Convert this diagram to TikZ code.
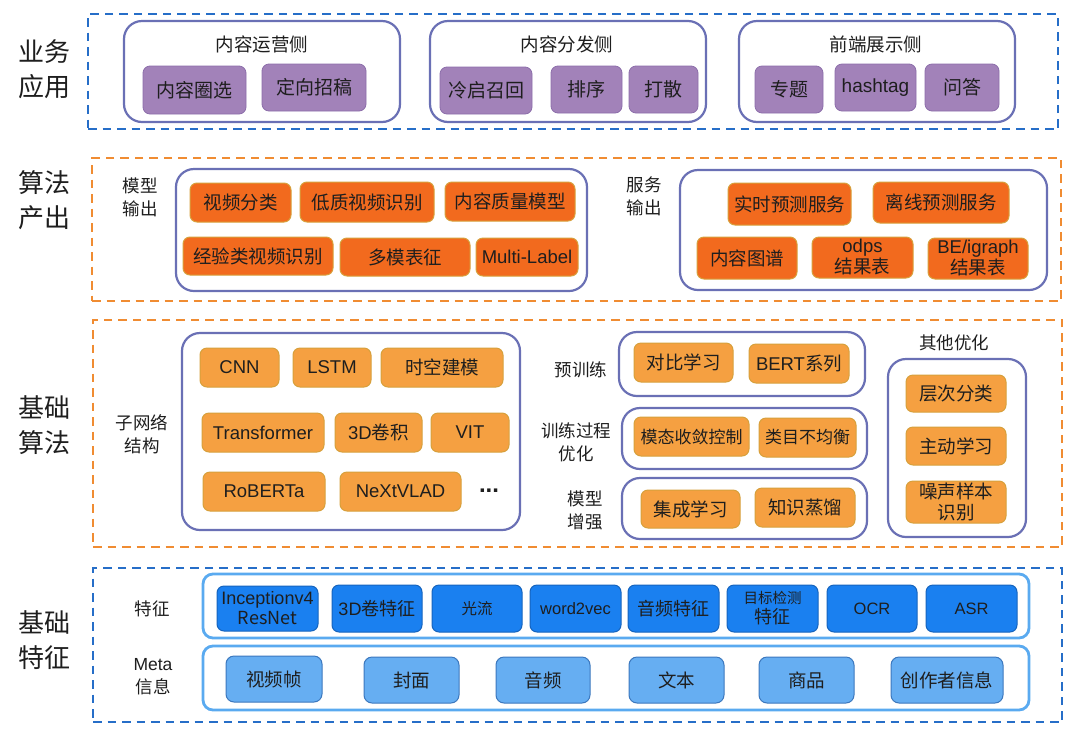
\documentclass[tikz,border=0pt]{standalone}
\usepackage{fontspec}
\setmainfont{Noto Sans CJK SC}
\newfontfamily\lat{Liberation Sans}
\definecolor{dblue}{RGB}{38,110,200}
\definecolor{dorange}{RGB}{240,140,50}
\definecolor{cborder}{RGB}{106,112,181}
\definecolor{pfill}{RGB}{162,130,185}
\definecolor{pdraw}{RGB}{140,110,170}
\definecolor{ofill}{RGB}{242,106,30}
\definecolor{odraw}{RGB}{215,160,60}
\definecolor{lofill}{RGB}{245,160,65}
\definecolor{ffill}{RGB}{26,128,240}
\definecolor{fdraw}{RGB}{22,100,190}
\definecolor{mfill}{RGB}{102,174,242}
\definecolor{mdraw}{RGB}{60,120,190}
\definecolor{fcont}{RGB}{90,170,240}
\definecolor{txt}{RGB}{30,30,30}
\newcommand\mybox[7]{\node[#1,minimum width={#5-#3},minimum height={#6-#4}] (#2) at ({(#3+#5)/2},{(#4+#6)/2}) {#7};}
\tikzset{
  base/.style={inner sep=0pt,outer sep=0pt,align=center,text=txt},
  secblue/.style={base,draw=dblue,line width=2.5pt,dash pattern=on 8.5pt off 6pt},
  secorange/.style={base,draw=dorange,line width=2.5pt,dash pattern=on 8.5pt off 6pt},
  cont/.style={base,draw=cborder,line width=2.2pt,rounded corners=18pt},
  fcontb/.style={base,draw=fcont,line width=2.8pt,rounded corners=10pt},
  pbox/.style={base,fill=pfill,draw=pdraw,line width=0.8pt,rounded corners=7pt,font=\fontsize{19}{22}\selectfont},
  obox/.style={base,fill=ofill,draw=odraw,line width=1pt,rounded corners=7pt,font=\fontsize{18.5}{21}\selectfont},
  lobox/.style={base,fill=lofill,draw=odraw,line width=1pt,rounded corners=7pt,font=\fontsize{18.5}{21}\selectfont},
  fbox/.style={base,fill=ffill,draw=fdraw,line width=1pt,rounded corners=7pt,font=\fontsize{18}{20}\selectfont},
  mbox/.style={base,fill=mfill,draw=mdraw,line width=1pt,rounded corners=8pt,font=\fontsize{18.5}{21}\selectfont},
  seclab/.style={base,font=\fontsize{26}{35}\selectfont},
  sublab/.style={base,font=\fontsize{17.5}{23}\selectfont},
  title/.style={base,font=\fontsize{18.5}{22}\selectfont},
}
\begin{document}
\begin{tikzpicture}[x=1pt,y=-1pt]
\useasboundingbox (0,0) rectangle (1080,732);
\fill[white] (0,0) rectangle (1080,732);
% ---------- section 1
\mybox{secblue}{s1}{88}{14}{1058}{129}{}
\node[seclab] (l1) at (45,69) {业务\\应用};
\mybox{cont}{c11}{124}{21}{400}{122}{}
\mybox{cont}{c12}{430}{21}{706}{122}{}
\mybox{cont}{c13}{739}{21}{1015}{122}{}
\node[title] (t11) at (262,44) {内容运营侧};
\node[title] (t12) at (567,44) {内容分发侧};
\node[title] (t13) at (876,44) {前端展示侧};
\mybox{pbox}{p1}{143}{66}{246}{114}{内容圈选}
\mybox{pbox}{p2}{262}{64}{366}{111}{定向招稿}
\mybox{pbox}{p3}{440}{67}{532}{114}{冷启召回}
\mybox{pbox}{p4}{551}{66}{622}{113}{排序}
\mybox{pbox}{p5}{629}{66}{698}{113}{打散}
\mybox{pbox}{p6}{755}{66}{823}{113}{专题}
\mybox{pbox}{p7}{835}{64}{916}{111}{\lat hashtag}
\mybox{pbox}{p8}{925}{64}{999}{111}{问答}
% ---------- section 2
\mybox{secorange}{s2}{92}{158}{1061}{301}{}
\node[seclab] (l2) at (45,200) {算法\\产出};
\node[sublab] (m2) at (140,197) {模型\\输出};
\mybox{cont}{c21}{176}{169}{587}{291}{}
\mybox{obox}{o1}{190}{183}{291}{222}{视频分类}
\mybox{obox}{o2}{300}{182}{434}{222}{低质视频识别}
\mybox{obox}{o3}{445}{182}{575}{221}{内容质量模型}
\mybox{obox}{o4}{183}{237}{333}{275}{经验类视频识别}
\mybox{obox}{o5}{340}{238}{470}{276}{多模表征}
\mybox{obox}{o6}{476}{238}{578}{276}{\lat Multi-Label}
\node[sublab] (m3) at (644,196) {服务\\输出};
\mybox{cont}{c22}{680}{170}{1047}{290}{}
\mybox{obox}{o7}{728}{183}{851}{225}{实时预测服务}
\mybox{obox}{o8}{873}{182}{1009}{223}{离线预测服务}
\mybox{obox}{o9}{697}{237}{797}{279}{内容图谱}
\mybox{obox}{o10}{812}{237}{913}{278}{{\lat odps}\\结果表}
\mybox{obox}{o11}{928}{238}{1028}{279}{{\lat BE/igraph}\\结果表}
% ---------- section 3
\mybox{secorange}{s3}{93}{320}{1062}{547}{}
\node[seclab] (l3) at (45,425) {基础\\算法};
\node[sublab] (m4) at (142,434) {子网络\\结构};
\mybox{cont}{c31}{182}{333}{520}{530}{}
\mybox{lobox}{a1}{200}{348}{279}{387}{\lat CNN}
\mybox{lobox}{a2}{293}{348}{371}{387}{\lat LSTM}
\mybox{lobox}{a3}{381}{348}{503}{387}{时空建模}
\mybox{lobox}{a4}{202}{413}{324}{452}{\lat Transformer}
\mybox{lobox}{a5}{335}{413}{422}{452}{{\lat 3D}卷积}
\mybox{lobox}{a6}{431}{413}{509}{452}{\lat VIT}
\mybox{lobox}{a7}{203}{472}{325}{511}{\lat RoBERTa}
\mybox{lobox}{a8}{340}{472}{461}{511}{\lat NeXtVLAD}
\node[base,font=\lat\bfseries\fontsize{24}{24}\selectfont] (dots) at (489,491) {...};
\node[sublab] (m5) at (581,370) {预训练};
\mybox{cont}{c32}{619}{332}{865}{396}{}
\mybox{lobox}{b1}{634}{343}{733}{382}{对比学习}
\mybox{lobox}{b2}{749}{344}{849}{383}{{\lat BERT}系列}
\node[sublab] (m6) at (576,442) {训练过程\\优化};
\mybox{cont}{c33}{622}{408}{867}{469}{}
\mybox{lobox}{b3}{634}{417}{749}{456}{\fontsize{17}{20}\selectfont 模态收敛控制}
\mybox{lobox}{b4}{759}{418}{856}{457}{\fontsize{17}{20}\selectfont 类目不均衡}
\node[sublab] (m7) at (585,510) {模型\\增强};
\mybox{cont}{c34}{622}{478}{867}{539}{}
\mybox{lobox}{b5}{641}{490}{740}{528}{集成学习}
\mybox{lobox}{b6}{755}{488}{855}{527}{知识蒸馏}
\node[sublab] (t35) at (954,343) {其他优化};
\mybox{cont}{c35}{888}{359}{1026}{537}{}
\mybox{lobox}{b7}{906}{375}{1006}{412}{层次分类}
\mybox{lobox}{b8}{906}{427}{1006}{465}{主动学习}
\mybox{lobox}{b9}{906}{481}{1006}{523}{噪声样本\\识别}
% ---------- section 4
\mybox{secblue}{s4}{93}{568}{1062}{722}{}
\node[seclab] (l4) at (45,640) {基础\\特征};
\node[sublab] (m8) at (152,609) {特征};
\node[sublab] (m9) at (153,677) {{\lat Meta}\\信息};
\mybox{fcontb}{c41}{203}{574}{1029}{638}{}
\mybox{fcontb}{c42}{203}{646}{1029}{710}{}
\mybox{fbox}{f1}{217}{586}{318}{631}{\lat\fontsize{18}{19}\selectfont Inceptionv4\\ResNet}
\mybox{fbox}{f2}{332}{585}{422}{632}{{\lat 3D}卷特征}
\mybox{fbox}{f3}{432}{585}{522}{632}{\fontsize{15.5}{18}\selectfont 光流}
\mybox{fbox}{f4}{530}{585}{621}{632}{\lat\fontsize{16.5}{18}\selectfont word2vec}
\mybox{fbox}{f5}{628}{585}{719}{632}{音频特征}
\mybox{fbox}{f6}{727}{585}{818}{632}{\fontsize{14.5}{17}\selectfont 目标检测\\特征}
\mybox{fbox}{f7}{827}{585}{917}{632}{\lat\fontsize{16.5}{18}\selectfont OCR}
\mybox{fbox}{f8}{926}{585}{1017}{632}{\lat\fontsize{16.5}{18}\selectfont ASR}
\mybox{mbox}{g1}{226}{656}{322}{702}{视频帧}
\mybox{mbox}{g2}{364}{657}{459}{703}{封面}
\mybox{mbox}{g3}{496}{657}{590}{703}{音频}
\mybox{mbox}{g4}{629}{657}{724}{703}{文本}
\mybox{mbox}{g5}{759}{657}{854}{703}{商品}
\mybox{mbox}{g6}{891}{657}{1003}{703}{创作者信息}
\end{tikzpicture}
\end{document}
